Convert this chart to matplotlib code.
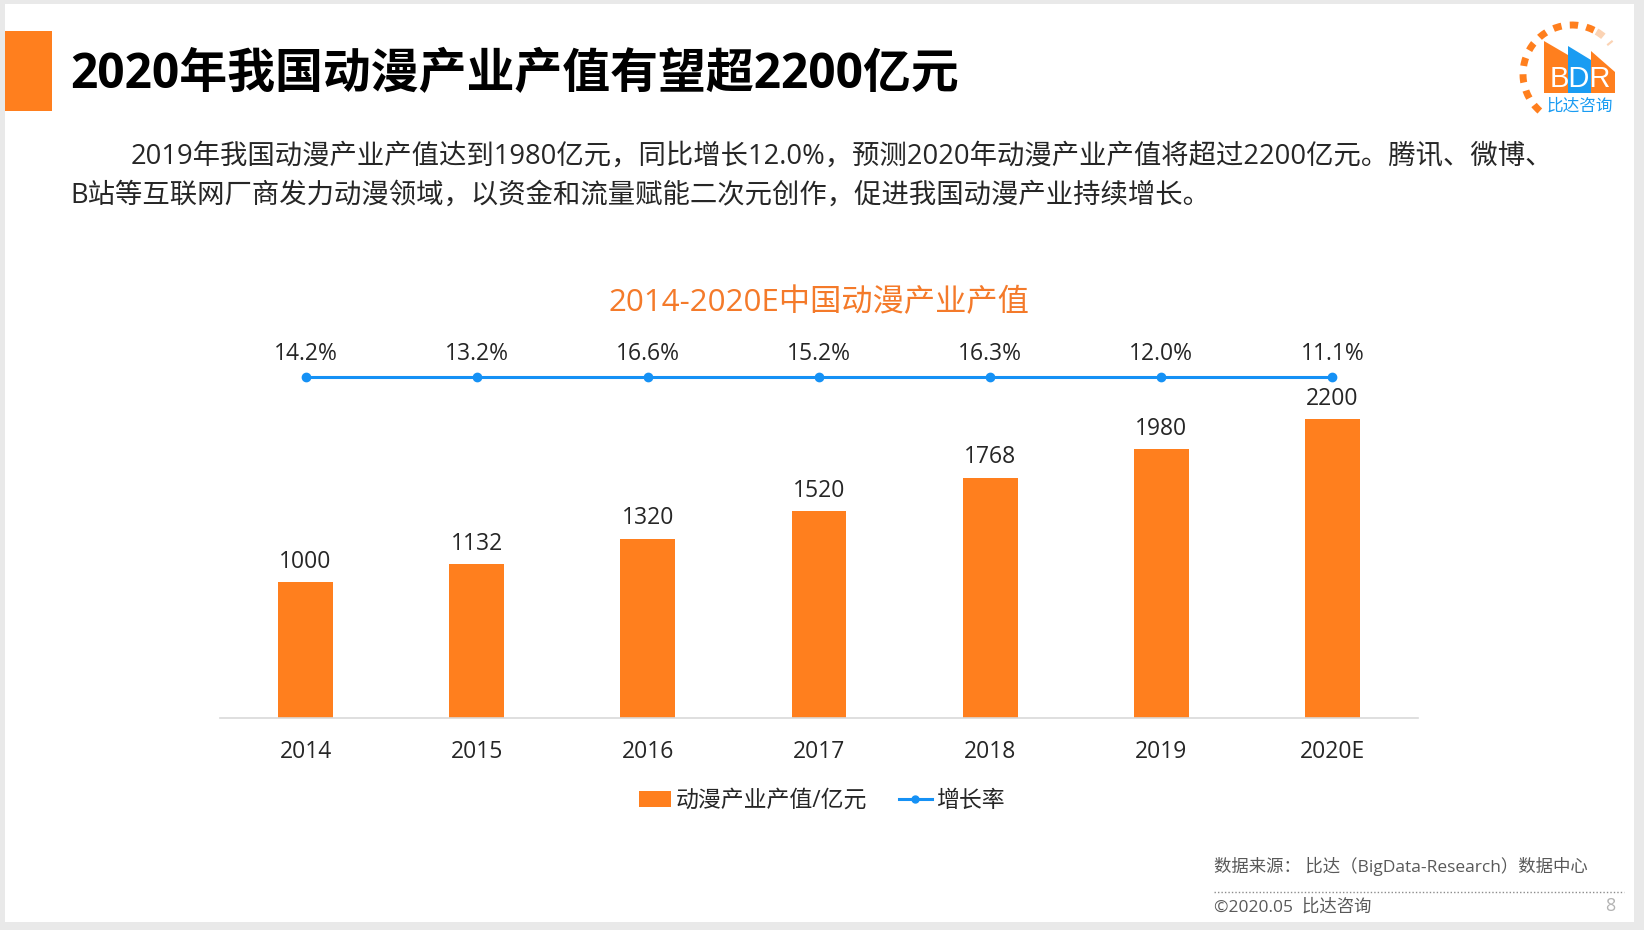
import matplotlib
matplotlib.use("Agg")
import matplotlib.pyplot as plt
from matplotlib.patches import Rectangle, Polygon, Arc, Patch
from matplotlib.lines import Line2D
import matplotlib.transforms as mtransforms

plt.rcParams['font.family'] = ['Open Sans', 'Noto Sans CJK SC', 'DejaVu Sans']

years = ['2014', '2015', '2016', '2017', '2018', '2019', '2020E']
output_value = [1000, 1132, 1320, 1520, 1768, 1980, 2200]
growth_rate = [14.2, 13.2, 16.6, 15.2, 16.3, 12.0, 11.1]

title = '2020年我国动漫产业产值有望超2200亿元'
body_1 = '2019年我国动漫产业产值达到1980亿元，同比增长12.0%，预测2020年动漫产业产值将超过2200亿元。腾讯、微博、'
body_2 = 'B站等互联网厂商发力动漫领域，以资金和流量赋能二次元创作，促进我国动漫产业持续增长。'
chart_title = '2014-2020E中国动漫产业产值'
bar_label = '动漫产业产值/亿元'
line_label = '增长率'
source = '数据来源： 比达（BigData-Research）数据中心'
footer = '©2020.05  比达咨询'

ORANGE = '#FF7F1E'
BLUE = '#1591F5'
W, H = 1644, 930

fig = plt.figure(figsize=(W / 100, H / 100), dpi=100, facecolor='#e9e9e9')

# pixel-coordinate layer for slide decorations
deco = fig.add_axes([0, 0, 1, 1], zorder=0)
deco.set_xlim(0, W)
deco.set_ylim(H, 0)
deco.axis('off')
deco.add_patch(Rectangle((5, 4), 1629, 918, facecolor='white', edgecolor='none'))
deco.add_patch(Rectangle((5, 31), 47, 80, facecolor=ORANGE, edgecolor='none'))

deco.text(70, 76, title, fontsize=34.5, fontweight='bold', color='black', va='center', ha='left')
deco.text(131, 157, body_1, fontsize=19.7, color='#262626', va='center', ha='left')
deco.text(70, 196, body_2, fontsize=19.7, color='#262626', va='center', ha='left')
deco.text(819, 303, chart_title, fontsize=22.5, color='#F47A2A', va='center', ha='center')

# footer
deco.text(1214, 866, source, fontsize=12.5, color='#595959', va='center', ha='left')
deco.plot([1214, 1624], [892, 892], color='#8c8c8c', lw=1, ls=(0, (1, 1.5)))
deco.text(1214, 907, footer, fontsize=12.5, color='#595959', va='center', ha='left')
deco.text(1610, 906, '8', fontsize=13, color='#b3b3b3', va='center', ha='center')

# logo
deco.add_patch(Arc((1572, 74), 98, 98, theta1=131, theta2=300, color=ORANGE, lw=5,
                   ls=(0, (1.2, 1.2))))
deco.add_patch(Arc((1572, 74), 98, 98, theta1=300, theta2=322, color='#FBD3B4', lw=5,
                   ls=(0, (1.2, 1.2))))
deco.add_patch(Polygon([(1544, 93), (1544, 41), (1568, 55), (1568, 93)], color=ORANGE, lw=0))
deco.add_patch(Polygon([(1568, 93), (1568, 46), (1591, 60), (1591, 93)], color='#1A9CF2', lw=0))
deco.add_patch(Polygon([(1591, 93), (1591, 51), (1615, 72), (1615, 93)], color=ORANGE, lw=0))
deco.text(1580, 79, 'BDR', fontsize=21, color='white', family='Liberation Sans',
          va='center', ha='center')
deco.text(1580, 107, '比达咨询', fontsize=12, color='#1A9CF2', va='center', ha='center')

# chart
px = 0.1359  # pixels per unit
top_px = 330
ax = fig.add_axes([220 / W, 1 - 718 / H, 1198 / W, (718 - top_px) / H], zorder=2)
ax.patch.set_alpha(0)
x = list(range(len(years)))
bars = ax.bar(x, output_value, width=0.32, color=ORANGE, label=bar_label)
ax.set_xlim(-0.5, len(years) - 0.5)
ax.set_ylim(0, (718 - top_px) / px)
for xi, v in zip(x, output_value):
    ax.annotate(str(v), (xi, v), xytext=(0, 6), textcoords='offset points',
                ha='center', va='bottom', fontsize=16.5, color='#262626')

ax.set_xticks(x)
ax.set_xticklabels(years, fontsize=16.5, color='#262626')
ax.tick_params(axis='x', length=0, pad=16)
ax.set_yticks([])
for s in ['left', 'right', 'top']:
    ax.spines[s].set_visible(False)
ax.spines['bottom'].set_color('#d9d9d9')
ax.spines['bottom'].set_linewidth(1.2)

# growth row (flat line, values shown as labels)
row = mtransforms.blended_transform_factory(ax.transData, ax.transAxes)
row_y = (718 - 377) / (718 - top_px)
ax.plot(x, [row_y] * len(x), color=BLUE, lw=2.2, marker='o', ms=6, transform=row,
        clip_on=False, label=line_label)
for xi, g in zip(x, growth_rate):
    ax.annotate(f'{g:.1f}%', (xi, row_y), xycoords=row, xytext=(0, 8),
                textcoords='offset points', ha='center', va='bottom',
                fontsize=16.5, color='#262626')

handles = [Patch(facecolor=ORANGE, edgecolor='none'),
           Line2D([], [], color=BLUE, lw=2.2, marker='o', ms=5)]
fig.legend(handles, [bar_label, line_label], loc='center', bbox_to_anchor=(822 / W, 1 - 801 / H),
           ncol=2, frameon=False, fontsize=16.5, handlelength=1.4, handletextpad=0.2,
           columnspacing=1.4, labelcolor='#262626')

fig.savefig('out.png', dpi=100, facecolor=fig.get_facecolor())
